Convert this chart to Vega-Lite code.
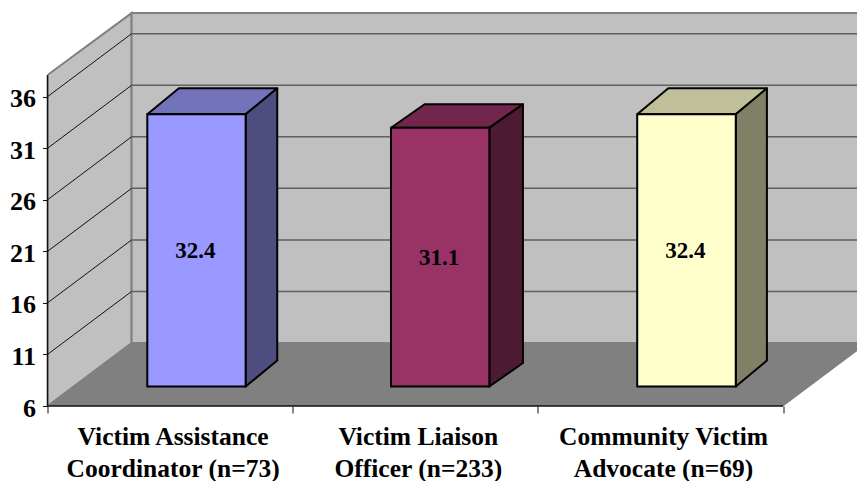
{
  "$schema": "https://vega.github.io/schema/vega-lite/v6.json",
  "width": 809.5,
  "height": 406,
  "padding": {"left": 47.5, "top": 0, "right": 0, "bottom": 75},
  "autosize": "none",
  "background": "white",
  "config": {"view": {"stroke": null}},
  "datasets": {
    "bars": [
      {"role": "Victim Assistance Coordinator", "value": 32.4, "mid": 19.2, "base": 6, "left": 0.407, "center": 0.6075, "right": 0.808},
      {"role": "Victim Liaison Officer", "value": 31.1, "mid": 18.55, "base": 6, "left": 1.401, "center": 1.6015, "right": 1.802},
      {"role": "Community Victim Advocate", "value": 32.4, "mid": 19.2, "base": 6, "left": 2.405, "center": 2.606, "right": 2.807}
    ],
    "categories": [
      {"pos": 0.5, "base": 6, "label": "Victim Assistance\nCoordinator (n=73)"},
      {"pos": 1.5, "base": 6, "label": "Victim Liaison\nOfficer (n=233)"},
      {"pos": 2.5, "base": 6, "label": "Community Victim\nAdvocate (n=69)"}
    ],
    "walls": [
      {"face": "left", "n": 0, "c": 0, "v": 6},
      {"face": "left", "n": 1, "c": 0.343, "v": 12.11},
      {"face": "left", "n": 2, "c": 0.343, "v": 44.11},
      {"face": "left", "n": 3, "c": 0, "v": 38.1},
      {"face": "left", "n": 4, "c": 0, "v": 6},
      {"face": "back", "n": 0, "c": 0.343, "v": 12.11},
      {"face": "back", "n": 1, "c": 3.343, "v": 12.11},
      {"face": "back", "n": 2, "c": 3.343, "v": 44.11},
      {"face": "back", "n": 3, "c": 0.343, "v": 44.11},
      {"face": "back", "n": 4, "c": 0.343, "v": 12.11}
    ],
    "floor": [
      {"n": 0, "c": 0, "v": 6},
      {"n": 1, "c": 3, "v": 6},
      {"n": 2, "c": 3.343, "v": 12.11},
      {"n": 3, "c": 0.343, "v": 12.11},
      {"n": 4, "c": 0, "v": 6}
    ],
    "gridDiagonals": [
      {"level": 11, "n": 0, "c": 0, "v": 11}, {"level": 11, "n": 1, "c": 0.343, "v": 17.11},
      {"level": 16, "n": 0, "c": 0, "v": 16}, {"level": 16, "n": 1, "c": 0.343, "v": 22.11},
      {"level": 21, "n": 0, "c": 0, "v": 21}, {"level": 21, "n": 1, "c": 0.343, "v": 27.11},
      {"level": 26, "n": 0, "c": 0, "v": 26}, {"level": 26, "n": 1, "c": 0.343, "v": 32.11},
      {"level": 31, "n": 0, "c": 0, "v": 31}, {"level": 31, "n": 1, "c": 0.343, "v": 37.11},
      {"level": 36, "n": 0, "c": 0, "v": 36}, {"level": 36, "n": 1, "c": 0.343, "v": 42.11}
    ],
    "gridBack": [
      {"level": 11, "n": 0, "c": 0.343, "v": 17.11}, {"level": 11, "n": 1, "c": 3.343, "v": 17.11},
      {"level": 16, "n": 0, "c": 0.343, "v": 22.11}, {"level": 16, "n": 1, "c": 3.343, "v": 22.11},
      {"level": 21, "n": 0, "c": 0.343, "v": 27.11}, {"level": 21, "n": 1, "c": 3.343, "v": 27.11},
      {"level": 26, "n": 0, "c": 0.343, "v": 32.11}, {"level": 26, "n": 1, "c": 3.343, "v": 32.11},
      {"level": 31, "n": 0, "c": 0.343, "v": 37.11}, {"level": 31, "n": 1, "c": 3.343, "v": 37.11},
      {"level": 36, "n": 0, "c": 0.343, "v": 42.11}, {"level": 36, "n": 1, "c": 3.343, "v": 42.11}
    ],
    "edges": [
      {"edge": "valueAxis", "n": 0, "c": 0, "v": 6},
      {"edge": "valueAxis", "n": 1, "c": 0, "v": 38.1},
      {"edge": "categoryAxis", "n": 0, "c": 0, "v": 6},
      {"edge": "categoryAxis", "n": 1, "c": 3, "v": 6}
    ],
    "barFaces": [
      {"face": "assistance top", "n": 0, "c": 0.407, "v": 32.4},
      {"face": "assistance top", "n": 1, "c": 0.808, "v": 32.4},
      {"face": "assistance top", "n": 2, "c": 0.937, "v": 34.92},
      {"face": "assistance top", "n": 3, "c": 0.536, "v": 34.92},
      {"face": "assistance top", "n": 4, "c": 0.407, "v": 32.4},
      {"face": "assistance side", "n": 0, "c": 0.808, "v": 32.4},
      {"face": "assistance side", "n": 1, "c": 0.937, "v": 34.92},
      {"face": "assistance side", "n": 2, "c": 0.937, "v": 8.52},
      {"face": "assistance side", "n": 3, "c": 0.808, "v": 6},
      {"face": "assistance side", "n": 4, "c": 0.808, "v": 32.4},
      {"face": "liaison top", "n": 0, "c": 1.401, "v": 31.1},
      {"face": "liaison top", "n": 1, "c": 1.802, "v": 31.1},
      {"face": "liaison top", "n": 2, "c": 1.939, "v": 33.38},
      {"face": "liaison top", "n": 3, "c": 1.538, "v": 33.38},
      {"face": "liaison top", "n": 4, "c": 1.401, "v": 31.1},
      {"face": "liaison side", "n": 0, "c": 1.802, "v": 31.1},
      {"face": "liaison side", "n": 1, "c": 1.939, "v": 33.38},
      {"face": "liaison side", "n": 2, "c": 1.939, "v": 8.28},
      {"face": "liaison side", "n": 3, "c": 1.802, "v": 6},
      {"face": "liaison side", "n": 4, "c": 1.802, "v": 31.1},
      {"face": "advocate top", "n": 0, "c": 2.405, "v": 32.4},
      {"face": "advocate top", "n": 1, "c": 2.807, "v": 32.4},
      {"face": "advocate top", "n": 2, "c": 2.934, "v": 34.92},
      {"face": "advocate top", "n": 3, "c": 2.532, "v": 34.92},
      {"face": "advocate top", "n": 4, "c": 2.405, "v": 32.4},
      {"face": "advocate side", "n": 0, "c": 2.807, "v": 32.4},
      {"face": "advocate side", "n": 1, "c": 2.934, "v": 34.92},
      {"face": "advocate side", "n": 2, "c": 2.934, "v": 8.52},
      {"face": "advocate side", "n": 3, "c": 2.807, "v": 6},
      {"face": "advocate side", "n": 4, "c": 2.807, "v": 32.4}
    ]
  },
  "resolve": {"scale": {"fill": "independent"}},
  "encoding": {
    "x": {
      "field": "c", "type": "quantitative", "title": null,
      "scale": {"domain": [0, 3.3014], "nice": false, "zero": false},
      "axis": {"values": [0, 1, 2, 3], "labels": false, "domain": false, "grid": false, "tickSize": 7, "tickColor": "#111111", "title": null}
    },
    "y": {
      "field": "v", "type": "quantitative", "title": null,
      "scale": {"domain": [6, 45.38], "nice": false, "zero": false},
      "axis": {"values": [6, 11, 16, 21, 26, 31, 36], "domain": false, "grid": false, "tickSize": 5, "tickColor": "#111111", "labelFont": "Liberation Serif", "labelFontWeight": "bold", "labelFontSize": 26, "labelColor": "#000000", "labelPadding": 7, "labelOffset": 2, "labelFlush": false, "title": null}
    }
  },
  "layer": [
    {
      "data": {"name": "walls"},
      "mark": {"type": "line", "fill": "#C0C0C0", "stroke": "#808080", "strokeWidth": 2, "clip": true},
      "encoding": {"detail": {"field": "face"}, "order": {"field": "n", "type": "ordinal"}}
    },
    {
      "data": {"name": "gridBack"},
      "mark": {"type": "line", "stroke": "#5f5f5f", "strokeWidth": 1.5, "clip": true},
      "encoding": {"detail": {"field": "level"}, "order": {"field": "n", "type": "ordinal"}}
    },
    {
      "data": {"name": "gridDiagonals"},
      "mark": {"type": "line", "stroke": "#111111", "strokeWidth": 1},
      "encoding": {"detail": {"field": "level"}, "order": {"field": "n", "type": "ordinal"}}
    },
    {
      "data": {"name": "floor"},
      "mark": {"type": "line", "fill": "#808080", "stroke": "#808080", "strokeWidth": 1, "clip": true},
      "encoding": {"order": {"field": "n", "type": "ordinal"}}
    },
    {
      "data": {"name": "edges"},
      "mark": {"type": "line", "stroke": "#111111", "strokeWidth": 1.5},
      "encoding": {"detail": {"field": "edge"}, "order": {"field": "n", "type": "ordinal"}}
    },
    {
      "data": {"name": "barFaces"},
      "mark": {"type": "line", "stroke": "#000000", "strokeWidth": 2, "strokeJoin": "round", "yOffset": -19.5},
      "encoding": {
        "detail": {"field": "face"},
        "order": {"field": "n", "type": "ordinal"},
        "fill": {
          "field": "face", "type": "nominal", "legend": null,
          "scale": {
            "domain": ["assistance top", "assistance side", "liaison top", "liaison side", "advocate top", "advocate side"],
            "range": ["#7373B9", "#4D4D80", "#73264D", "#4D1A33", "#BFBF99", "#808066"]
          }
        }
      }
    },
    {
      "data": {"name": "bars"},
      "mark": {"type": "rect", "stroke": "#000000", "strokeWidth": 2, "yOffset": -19.5, "y2Offset": -19.5},
      "encoding": {
        "x": {"field": "left", "type": "quantitative", "title": null},
        "x2": {"field": "right"},
        "y": {"field": "value", "type": "quantitative", "title": null},
        "y2": {"field": "base"},
        "fill": {
          "field": "role", "type": "nominal", "legend": null,
          "scale": {
            "domain": ["Victim Assistance Coordinator", "Victim Liaison Officer", "Community Victim Advocate"],
            "range": ["#9999FF", "#993366", "#FFFFCC"]
          }
        }
      }
    },
    {
      "data": {"name": "bars"},
      "mark": {"type": "text", "font": "Liberation Serif", "fontWeight": "bold", "fontSize": 23, "color": "#000000", "baseline": "middle", "align": "center", "xOffset": -1, "yOffset": -19},
      "encoding": {
        "x": {"field": "center", "type": "quantitative", "title": null},
        "y": {"field": "mid", "type": "quantitative", "title": null},
        "text": {"field": "value", "type": "quantitative", "format": ".1f"}
      }
    },
    {
      "data": {"name": "categories"},
      "mark": {"type": "text", "font": "Liberation Serif", "fontWeight": "bold", "fontSize": 25.5, "color": "#000000", "baseline": "middle", "align": "center", "lineBreak": "\n", "lineHeight": 32, "xOffset": 3, "yOffset": 31},
      "encoding": {
        "x": {"field": "pos", "type": "quantitative", "title": null},
        "y": {"field": "base", "type": "quantitative", "title": null},
        "text": {"field": "label", "type": "nominal"}
      }
    }
  ]
}
